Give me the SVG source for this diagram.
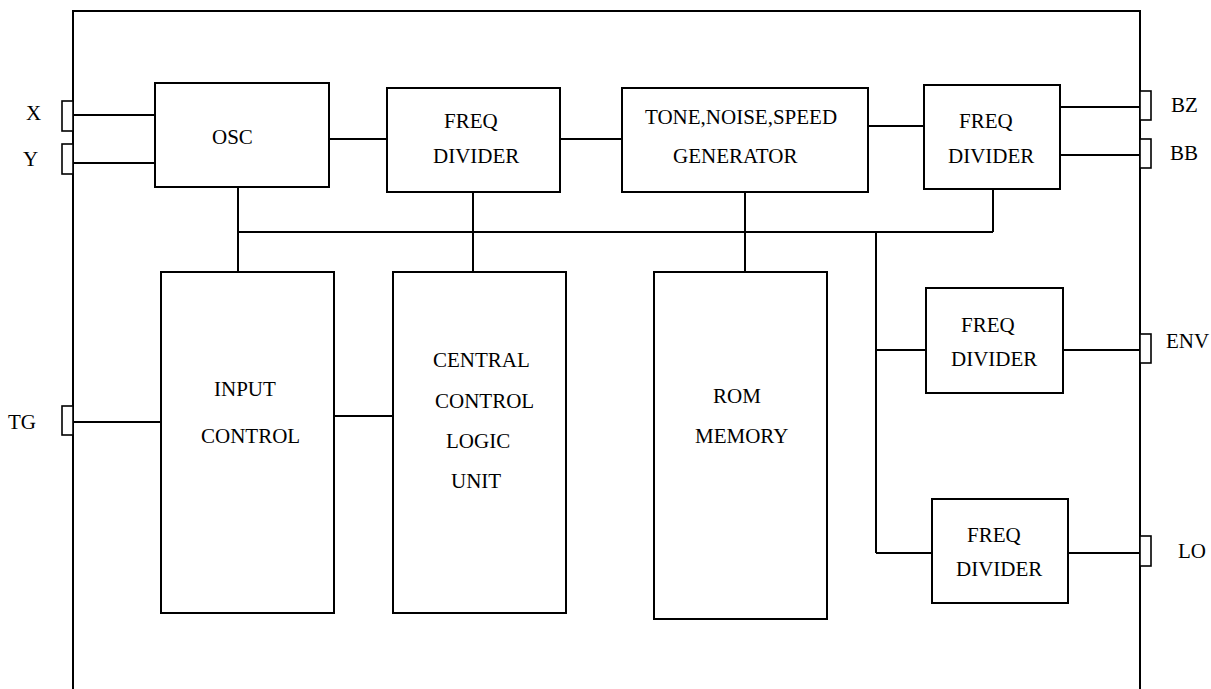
<svg xmlns="http://www.w3.org/2000/svg" width="1211" height="689" viewBox="0 0 1211 689" font-family="'Liberation Serif', 'DejaVu Serif', serif" font-size="21">
<style>
.box{fill:#fff;stroke:#000;stroke-width:2}
.pin{fill:#fff;stroke:#000;stroke-width:1.6}
.ln{stroke:#000;stroke-width:2;fill:none}
text{font-family:'Liberation Serif','DejaVu Serif',serif;font-size:21px;fill:#000}
</style>
<rect width="1211" height="689" fill="#fff"/>
<g id="frame">
<path class="ln" d="M73,689 V11 H1140 V689"/>
</g>
<g id="connectors">
<path class="ln" d="M73,115 H155 M73,163 H155 M329,139 H387 M560,139 H622 M868,126 H924 M1060,107 H1140 M1060,155 H1140 M238,187 V272 M473,192 V272 M745,192 V272 M238,232 H993 M993,189 V232 M876,232 V553 M876,350 H926 M1063,350 H1140 M876,553 H932 M1068,553 H1140 M73,422 H161 M334,416 H393"/>
</g>
<g id="pin-X"><rect class="pin" x="62" y="101" width="11" height="30"/><text x="26" y="120">X</text></g>
<g id="pin-Y"><rect class="pin" x="62" y="144" width="11" height="30"/><text x="23" y="166">Y</text></g>
<g id="pin-TG"><rect class="pin" x="62" y="406" width="11" height="29"/><text x="8" y="429">TG</text></g>
<g id="pin-BZ"><rect class="pin" x="1140" y="91" width="11" height="29"/><text x="1171" y="112">BZ</text></g>
<g id="pin-BB"><rect class="pin" x="1140" y="139" width="11" height="29"/><text x="1170" y="160">BB</text></g>
<g id="pin-ENV"><rect class="pin" x="1140" y="334" width="11" height="29"/><text x="1166" y="348">ENV</text></g>
<g id="pin-LO"><rect class="pin" x="1140" y="536" width="11" height="30"/><text x="1178" y="558">LO</text></g>
<g id="osc"><rect class="box" x="155" y="83" width="174" height="104"/><text x="212" y="144">OSC</text></g>
<g id="freq-divider-1"><rect class="box" x="387" y="88" width="173" height="104"/><text x="444" y="128">FREQ</text><text x="433" y="163">DIVIDER</text></g>
<g id="tone-generator"><rect class="box" x="622" y="88" width="246" height="104"/><text x="645" y="124">TONE,NOISE,SPEED</text><text x="673" y="163">GENERATOR</text></g>
<g id="freq-divider-2"><rect class="box" x="924" y="85" width="136" height="104"/><text x="959" y="128">FREQ</text><text x="948" y="163">DIVIDER</text></g>
<g id="freq-divider-3"><rect class="box" x="926" y="288" width="137" height="105"/><text x="961" y="332">FREQ</text><text x="951" y="366">DIVIDER</text></g>
<g id="freq-divider-4"><rect class="box" x="932" y="499" width="136" height="104"/><text x="967" y="542">FREQ</text><text x="956" y="576">DIVIDER</text></g>
<g id="input-control"><rect class="box" x="161" y="272" width="173" height="341"/><text x="214" y="396">INPUT</text><text x="201" y="443">CONTROL</text></g>
<g id="central-control"><rect class="box" x="393" y="272" width="173" height="341"/><text x="433" y="367">CENTRAL</text><text x="435" y="408">CONTROL</text><text x="446" y="448">LOGIC</text><text x="451" y="488">UNIT</text></g>
<g id="rom-memory"><rect class="box" x="654" y="272" width="173" height="347"/><text x="713" y="403">ROM</text><text x="695" y="443">MEMORY</text></g>
</svg>
